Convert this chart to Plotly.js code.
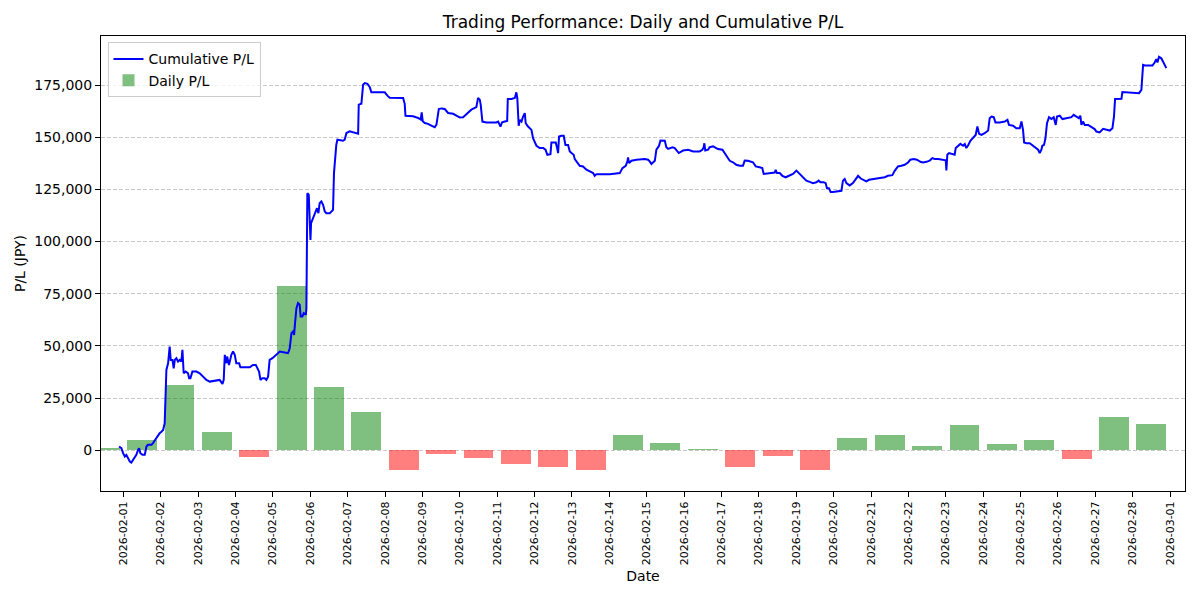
<!DOCTYPE html>
<html>
<head>
<meta charset="utf-8">
<script src="https://cdn.plot.ly/plotly-3.0.1.min.js"></script>
<style>
  html, body { margin: 0; padding: 0; background: #ffffff; }
  #chart { width: 1200px; height: 600px; }
</style>
</head>
<body>
<div id="chart"></div>
<script>
// Daily realised P/L, one bar per trading day (JPY)
const barDays = [
  '2026-01-31', '2026-02-01', '2026-02-02', '2026-02-03', '2026-02-04', '2026-02-05',
  '2026-02-06', '2026-02-07', '2026-02-08', '2026-02-09', '2026-02-10', '2026-02-11',
  '2026-02-12', '2026-02-13', '2026-02-14', '2026-02-15', '2026-02-16', '2026-02-17',
  '2026-02-18', '2026-02-19', '2026-02-20', '2026-02-21', '2026-02-22', '2026-02-23',
  '2026-02-24', '2026-02-25', '2026-02-26', '2026-02-27', '2026-02-28'
];
const dailyPL = [
  1000, 5000, 31300, 8800, -3000, 78800,
  30400, 18400, -9400, -1600, -3500, -6400,
  -7900, -9600, 7400, 3500, 600, -7900,
  -2600, -9500, 5900, 7400, 2100, 12200,
  3000, 5000, -4000, 16000, 12700
];

// Running cumulative P/L: hours elapsed since 2026-02-01 00:00, and value (JPY)
const cumHours = [
  -2.8, -1.3, -0.2, 0.9, 1.9, 3.0, 4.1, 5.1, 6.2, 7.3, 8.3, 9.4, 10.1, 10.9, 12.2, 13.7,
  14.8, 15.8, 18.0, 19.0, 20.1, 21.2, 22.3, 23.3, 24.4, 25.5, 26.5, 27.2, 27.6, 28.7,
  29.7, 30.4, 31.5, 32.3, 33.0, 34.0, 35.1, 36.2, 37.2, 37.9, 38.7, 40.0, 41.5, 42.2,
  43.0, 44.3, 46.9, 49.0, 51.1, 53.3, 55.4, 61.8, 63.6, 64.4, 65.1, 66.1, 66.6, 67.8,
  69.3, 70.4, 71.5, 72.5, 74.3, 75.1, 81.1, 83.2, 85.0, 85.8, 87.1, 88.0, 89.2, 90.7,
  91.8, 92.9, 93.9, 95.7, 98.2, 100.4, 103.6, 105.7, 106.8, 107.9, 108.9, 109.6, 110.2,
  111.1, 112.1, 113.2, 113.8, 114.9, 115.8, 117.1, 117.5, 117.9, 118.1, 119.0, 119.6,
  120.1, 120.5, 121.3, 122.2, 123.5, 124.3, 125.2, 126.0, 127.1, 128.2, 129.3, 130.3,
  132.5, 134.6, 135.2, 136.1, 136.7, 137.4, 141.0, 142.1, 143.2, 145.3,
  149.6, 150.7, 151.1, 152.8, 153.9, 155.0, 156.7, 158.2, 159.2, 167.8, 169.5, 171.0,
  179.6, 180.6, 181.1, 186.0, 189.2, 190.9, 191.5, 192.2, 193.5, 195.6, 197.7, 199.9,
  201.0, 202.5, 204.2, 206.3, 208.5, 211.7, 213.8, 216.0, 218.1, 220.2, 223.4, 226.6,
  227.7, 228.8, 229.4,
  230.5, 233.1, 239.5, 240.6, 242.1, 243.1, 244.9, 246.4, 246.8, 249.1, 251.3, 252.3,
  252.9, 253.8, 254.5, 255.6, 256.6, 257.7, 258.3, 259.8, 262.0, 263.0, 265.2, 267.3,
  269.5, 271.0, 272.2, 274.2, 274.8, 277.6, 278.7, 279.1, 279.7, 281.2, 282.7, 283.8,
  285.5, 286.6, 287.7, 289.1, 289.8, 290.9, 293.0, 295.1, 297.3, 301.6, 302.6, 303.7,
  312.3, 318.7, 320.4, 322.5, 323.6, 324.0, 324.7, 326.2, 329.4, 334.7, 336.9, 337.9,
  339.0, 341.2, 342.2, 343.9, 344.8, 347.6, 348.6, 349.7, 352.5, 354.0, 356.6, 359.3,
  362.6, 365.8, 370.0,
  371.7, 372.6, 373.0, 373.6, 375.4, 376.4, 378.6, 380.3, 381.8, 384.6, 386.1, 388.2,
  389.3, 391.4, 393.5, 395.7, 397.8, 398.9, 401.0, 404.2, 406.0, 408.5, 410.2, 411.1,
  414.9, 418.2, 418.8, 419.6, 421.4, 423.1, 425.2, 427.8, 429.9, 432.1, 434.2, 436.3,
  438.5, 440.6, 442.8, 444.9, 446.4, 447.5, 449.6, 450.9, 451.7, 453.0, 454.1, 455.6,
  458.8, 461.0, 462.0, 463.1, 464.2, 466.3, 468.4, 470.6, 471.7, 473.4, 474.9, 477.0,
  478.7, 481.3, 485.6, 488.8, 490.9, 493.7, 495.2, 497.3, 499.5, 501.6, 503.8, 505.2,
  507.4, 509.5, 511.7, 513.4, 515.5, 517.7,
  519.4, 520.9, 523.1, 526.3, 528.0, 528.4, 529.0, 530.1, 531.6, 533.7, 534.4, 535.9,
  537.4, 539.1, 540.2, 541.2, 542.3, 543.8, 545.5, 547.2, 548.3, 549.4, 550.9, 553.0,
  555.2, 556.2, 557.3, 558.8, 559.9, 562.6, 565.9, 567.6, 568.6, 571.2, 573.3, 575.5,
  576.6, 577.6, 578.3, 579.8, 581.9, 584.0, 585.8, 587.3, 588.3, 589.4, 590.0, 591.1,
  592.0, 593.0, 594.3, 595.8, 597.3, 598.6, 599.4, 601.2, 602.9, 605.4, 608.7, 610.1,
  611.9, 613.4, 614.4, 615.1, 616.1, 617.2, 619.4, 621.5, 623.6, 624.7, 626.8, 629.0,
  631.1, 633.3, 635.0, 636.0, 636.7, 638.0, 640.8, 641.4, 646.1, 652.1, 653.6, 654.2,
  654.7, 656.4, 660.7, 662.1, 663.2, 663.9, 664.9, 666.4, 667.5, 668.8, 669.6
];
const cumPL = [
  1800, 1000, -1400, -3000, -2200, -3800, -5400, -5900, -4600, -3000, -2200, 200, 1000, -1400, -2200, -2200,
  1800, 2600, 2600, 3400, 4600, 5800, 7400, 8200, 8900, 9700, 12900, 25700, 38500, 41700,
  49700, 43300, 43300, 39300, 43300, 44100, 42500, 43300, 42500, 48100, 36900, 37700, 36900, 34500,
  34500, 37700, 37700, 36900, 35300, 33700, 32900, 33700, 31800, 33700, 45700, 41700, 44900, 40900,
  45700, 47300, 45700, 41700, 41700, 39800, 39800, 40900, 40900, 39300, 37700, 33700, 34500, 34500,
  33700, 35300, 43300, 44100, 45700, 47300, 46800, 46500, 48900, 56100, 56900, 55300, 60900,
  68100, 70500, 69700, 64100, 64100, 65700, 64900, 68100, 89600, 123200, 122400, 107200,
  100800, 108800, 110400, 112000, 115200, 116000, 113600, 118400, 119200, 117600, 114400, 113600,
  113600, 115200, 132800, 142400, 146400, 148800, 148300, 148800, 152000, 152800,
  152000, 151700, 165600, 166000, 175100, 175900, 175600, 174000, 171500, 171500, 169900, 168900,
  168800, 166000, 160300, 160000, 159200, 158400, 161900, 157600, 156800, 156400, 155600, 154800,
  156000, 163500, 163800, 163500, 161600, 161200, 160300, 159500, 159600, 161200, 163200, 164400,
  168800, 168000, 165600,
  157500, 157100, 157100, 157500, 155100, 157100, 157500, 157800, 168300, 168300, 168800, 171500,
  168800, 155500, 158300, 157500, 159900, 161500, 156700, 155100, 153500, 149500, 145900, 144800,
  144800, 144000, 141600, 141900, 147500, 147500, 144000, 142400, 150300, 150700, 150700, 146300,
  146300, 143200, 142400, 141600, 139500, 138400, 136300, 136000, 134400, 132800, 131500, 132300,
  132300, 132800, 135200, 136300, 138400, 140300, 137600, 138700, 139200, 139600, 139200, 138400,
  137200, 138700, 144000, 145900, 148400, 148300, 145200, 144400, 145200, 144800, 142400, 143600,
  144000, 143200, 143200,
  144000, 145200, 147100, 143600, 144000, 145200, 145600, 144800, 144300, 144000, 142400, 140000,
  138700, 138000, 136800, 136300, 136300, 138800, 138700, 138000, 136000, 135600, 135200, 132400,
  132600, 133100, 134400, 132800, 132800, 131500, 130800, 131500, 132400, 134000, 132400, 130800,
  129200, 128600, 128000, 128400, 129200, 128400, 128400, 128000, 125600, 125600, 123700, 123700,
  124000, 124300, 129200, 130000, 128000, 126900, 128000, 130000, 131500, 130200, 129600, 128800,
  129600, 129900, 130200, 130800, 131500, 131800, 133900, 136000, 136300, 136800, 137900, 139200,
  139500, 139200, 138200, 137900, 138200, 138800,
  140000, 139600, 139500, 139100, 138900, 134100, 141600, 142400, 142000, 141600, 144800, 145600,
  146800, 145900, 146700, 144800, 146000, 148300, 149500, 151100, 155100, 151600, 151100, 151900,
  153200, 159100, 159900, 159600, 157100, 157100, 157500, 158300, 155900, 155500, 154300, 154300,
  157500, 153500, 147500, 147100, 147100, 145900, 144800, 144000, 142400, 144000, 145900, 146300,
  149500, 156700, 159600, 158700, 159600, 155900, 159900, 160300, 158700, 159100, 159600, 160700,
  159900, 159100, 160300, 155900, 157500, 155900, 155900, 154800, 153900, 152700, 152300, 154000,
  153500, 153200, 154300, 159900, 168300, 168400, 168400, 171600, 171500, 171100, 172700, 179100,
  184700, 184300, 184300, 185800, 187400, 185800, 188500, 187800, 186300, 184700, 183100
];

// Date tick labels, one per day
const tickDates = [
  '2026-02-01', '2026-02-02', '2026-02-03', '2026-02-04', '2026-02-05', '2026-02-06',
  '2026-02-07', '2026-02-08', '2026-02-09', '2026-02-10', '2026-02-11', '2026-02-12',
  '2026-02-13', '2026-02-14', '2026-02-15', '2026-02-16', '2026-02-17', '2026-02-18',
  '2026-02-19', '2026-02-20', '2026-02-21', '2026-02-22', '2026-02-23', '2026-02-24',
  '2026-02-25', '2026-02-26', '2026-02-27', '2026-02-28', '2026-03-01'
];

const START_MS = Date.UTC(2026, 1, 1);
const HOUR_MS = 3600 * 1000;
const DAY_MS = 24 * HOUR_MS;
function stamp(ms) {
  return new Date(ms).toISOString().slice(0, 19).replace('T', ' ');
}
const cumTimes = cumHours.map(h => stamp(START_MS + h * HOUR_MS));
const barCenters = barDays.map(d => d + ' 12:00:00');
const barColors = dailyPL.map(v => v >= 0 ? 'rgba(0,128,0,0.5)' : 'rgba(255,0,0,0.5)');

const FONT = 'DejaVu Sans, Verdana, sans-serif';

const bars = {
  type: 'bar',
  name: 'Daily P/L',
  x: barCenters,
  y: dailyPL,
  width: 0.8 * DAY_MS,
  marker: { color: barColors, line: { width: 0 } },
  legendrank: 2,
  hoverinfo: 'skip'
};

const line = {
  type: 'scatter',
  mode: 'lines',
  name: 'Cumulative P/L',
  x: cumTimes,
  y: cumPL,
  line: { color: '#0000ff', width: 2 },
  legendrank: 1,
  hoverinfo: 'skip'
};

const layout = {
  width: 1200,
  height: 600,
  paper_bgcolor: '#ffffff',
  plot_bgcolor: '#ffffff',
  margin: { l: 101, r: 15, t: 36, b: 109, pad: 0 },
  font: { family: FONT, color: '#000000', size: 14 },
  title: {
    text: 'Trading Performance: Daily and Cumulative P/L',
    font: { family: FONT, size: 17, color: '#000000' },
    x: 0.5, xref: 'paper', xanchor: 'center',
    y: 0.963, yref: 'container', yanchor: 'middle'
  },
  showlegend: true,
  legend: {
    x: 0.006, y: 0.986, xanchor: 'left', yanchor: 'top',
    bgcolor: 'rgba(255,255,255,0.8)',
    bordercolor: '#cccccc', borderwidth: 1,
    font: { family: FONT, size: 14, color: '#000000' },
    tracegroupgap: 0
  },
  xaxis: {
    type: 'date',
    range: ['2026-01-31 09:37:00', '2026-03-01 09:36:00'],
    tickmode: 'array',
    tickvals: tickDates,
    ticktext: tickDates,
    tickangle: -90,
    tickfont: { family: FONT, size: 11, color: '#000000' },
    ticks: 'outside', ticklen: 5, tickwidth: 1, tickcolor: '#000000',
    showline: true, linecolor: '#000000', linewidth: 1, mirror: true,
    showgrid: false, zeroline: false,
    automargin: false,
    title: { text: 'Date', font: { family: FONT, size: 14, color: '#000000' }, standoff: 6 }
  },
  yaxis: {
    range: [-19514, 198490],
    dtick: 25000, tick0: 0,
    tickformat: ',d',
    tickfont: { family: FONT, size: 14, color: '#000000' },
    ticks: 'outside', ticklen: 5, tickwidth: 1, tickcolor: '#000000',
    showline: true, linecolor: '#000000', linewidth: 1, mirror: true,
    showgrid: true, gridcolor: '#c8c8c8', gridwidth: 1, griddash: '4px,2px',
    zeroline: false,
    automargin: false,
    title: { text: 'P/L (JPY)', font: { family: FONT, size: 14, color: '#000000' }, standoff: 5 }
  },
  bargap: 0
};

Plotly.newPlot('chart', [bars, line], layout, { staticPlot: true, displayModeBar: false });
</script>
</body>
</html>
